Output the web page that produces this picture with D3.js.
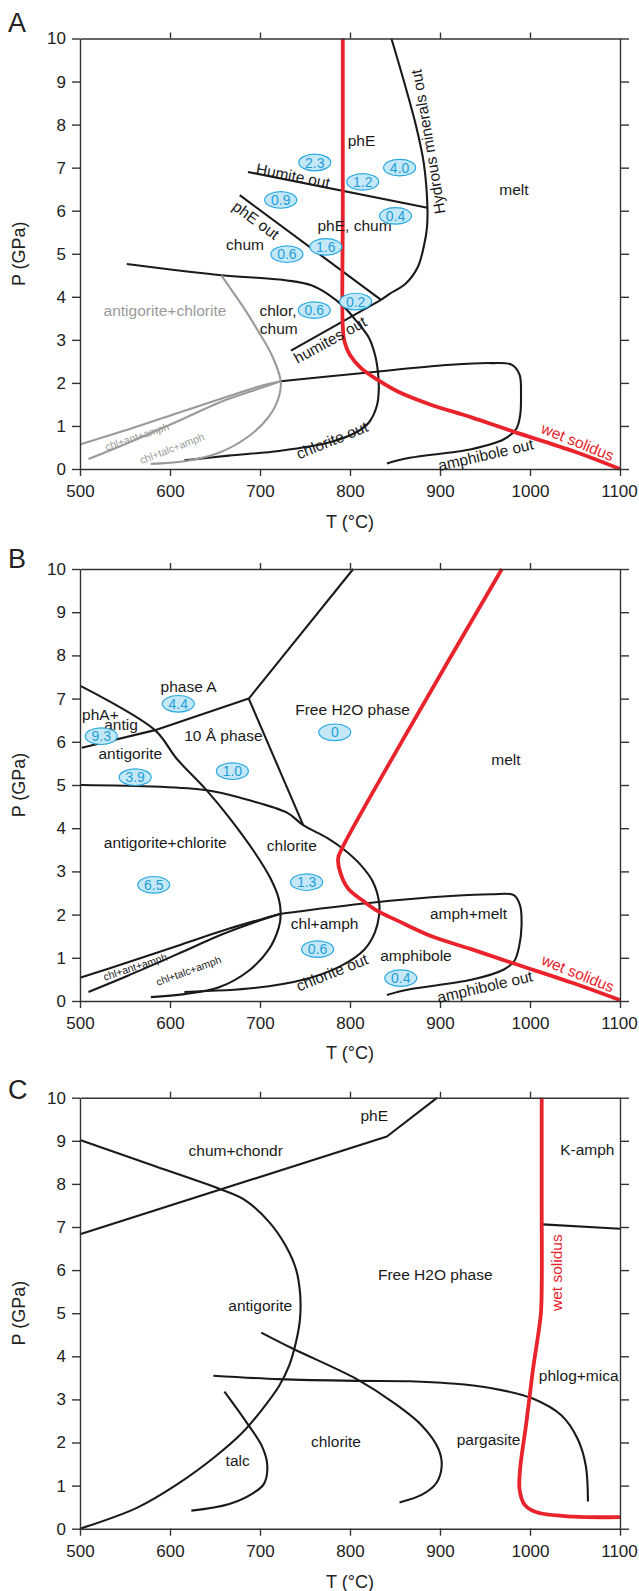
<!DOCTYPE html>
<html>
<head>
<meta charset="utf-8">
<script src="https://cdn.jsdelivr.net/npm/d3@7"></script>
<style>
  html, body { margin: 0; padding: 0; background: #fff; }
  svg { display: block; font-family: "Liberation Sans", Arial, Helvetica, sans-serif; }
</style>
</head>
<body>
<svg id="chart" width="639" height="1591"></svg>
<script>
// axis ticks
const tempTicks = [500, 600, 700, 800, 900, 1000, 1100];
const pressTicks = [0, 1, 2, 3, 4, 5, 6, 7, 8, 9, 10];

// ---- Panel A: [T (°C), P (GPa)] ----
const aWetSolidus = [[792, 10], [792, 6], [792, 3.3], [794, 2.95], [800, 2.65], [812, 2.35], [830, 2.08], [853, 1.8], [889, 1.5], [935, 1.2], [980, 0.88], [1050, 0.4], [1100, 0]];
const aHydrousOut = [[846, 10], [860, 9], [873, 8], [882, 7.1], [886, 6.1], [885.5, 5.6], [882, 5.17], [875.5, 4.7], [862, 4.31], [844, 4.07], [834.5, 3.93]];
const aHumiteOut = [[686.6, 6.9], [886, 6.07]];
const aPhEOut = [[677.5, 6.36], [834.5, 3.93]];
const aHumitesOut = [[734.4, 2.75], [834.5, 3.93]];
const aChloriteOut = [[552, 4.76], [657, 4.5], [705, 4.43], [730, 4.38], [757, 4.27], [775, 4.07], [793.6, 3.76], [807, 3.44], [821, 3.05], [827.7, 2.66], [831, 2.26], [832, 1.87], [830, 1.48], [821, 1.08], [807.5, 0.86], [777.5, 0.62], [721.2, 0.42], [665, 0.31], [616, 0.2]];
const aAmphLoop = [[723, 2.04], [815, 2.23], [912, 2.42], [957, 2.46], [980, 2.42], [988.4, 2.19], [990, 1.71], [989, 1.24], [984.7, 0.93], [971, 0.69], [934.7, 0.46], [866.4, 0.26], [841, 0.13]];
const aAntigCurve = [[657, 4.5], [684, 3.68], [696.9, 3.24], [713.7, 2.62], [723, 2.04], [721.2, 1.69], [710, 1.22], [687.5, 0.76], [653.7, 0.37], [616.2, 0.18], [578.7, 0.12]];
const aChlAntAmph = [[723, 2.04], [702.5, 1.94], [665, 1.69], [608.7, 1.3], [552.5, 0.91], [500, 0.57]];
const aChlTalcAmph = [[723, 2.04], [695, 1.84], [657.5, 1.57], [608.7, 1.11], [552.5, 0.6], [509.4, 0.23]];

const aText = [["phE", 812.8, 7.63], ["Humite out", 736.7, 6.81, 11.3], ["melt", 982.2, 6.5], ["Hydrous minerals out", 886.7, 7.6, -99.6], ["phE, chum", 805, 5.65], ["phE out", 695.6, 5.78, 36.5], ["chum", 683.3, 5.22], ["chlor,", 720, 3.69], ["chum", 720.8, 3.27], ["humites out", 777.8, 3.0, -29], ["chlorite out", 780, 0.67, -22], ["amphibole out", 950.8, 0.33, -13]];
const aGrayText = [["antigorite+chlorite", 594.4, 3.68]];
const aSmallText = [["chl+ant+amph", 563.3, 0.75, -18.5], ["chl+talc+amph", 602.2, 0.48, -21]];
const aRedText = [["wet solidus", 1053, 0.63, 22]];
const aBubbles = [["2.3", 760.9, 7.12], ["4.0", 855.1, 7.0], ["1.2", 814.1, 6.67], ["0.9", 723, 6.25], ["0.4", 850.6, 5.88], ["1.6", 773.1, 5.16], ["0.6", 729.9, 4.99], ["0.2", 806.3, 3.89], ["0.6", 760.3, 3.69]];

// ---- Panel B ----
const bTopLine = [[803.6, 10], [687.5, 7]];
const bPhaseALine = [[687.5, 7], [583.3, 6.27], [502, 5.86]];
const b10ALine = [[687.5, 7], [748, 4.07]];
const bAntigCurve = [[501, 7.29], [583.3, 6.27], [607, 5.62], [641, 4.87], [666, 4.24], [693.4, 3.46], [711.6, 2.84], [720.8, 2.37], [723, 2.02], [721, 1.71], [710, 1.2], [687.5, 0.7], [653.7, 0.31], [616, 0.16], [578.7, 0.09]];
const bChloriteOut = [[501, 5.0], [641, 4.88], [684, 4.67], [730, 4.36], [748, 4.07], [775, 3.77], [793.6, 3.5], [811.8, 3.15], [825.4, 2.76], [832.3, 2.29], [832.3, 1.98], [827.7, 1.59], [816.3, 1.2], [789, 0.8], [748, 0.49], [693.4, 0.3], [616, 0.21]];
const bAmphLoop = [[723, 2.02], [821, 2.27], [912, 2.43], [957, 2.47], [982, 2.45], [989, 2.21], [990.6, 1.74], [988, 1.27], [982.4, 0.92], [971, 0.73], [934.7, 0.49], [866.4, 0.27], [841, 0.14]];
const bChlAntAmph = [[723, 2.02], [702.5, 1.9], [665, 1.67], [608.7, 1.28], [552.5, 0.89], [500, 0.54]];
const bChlTalcAmph = [[723, 2.02], [695, 1.83], [657.5, 1.54], [608.7, 1.09], [552.5, 0.58], [509.4, 0.21]];
const bWetSolidus = [[968.8, 10], [859.6, 6.08], [791.3, 3.54], [786.8, 3.3], [789, 2.99], [798, 2.6], [816.3, 2.29], [830, 2.09], [852.8, 1.86], [889.2, 1.51], [934.7, 1.2], [980.2, 0.88], [1048.5, 0.41], [1100, 0.02]];

const bText = [["phase A", 620.6, 7.29], ["phA+", 522.7, 6.64], ["antig", 545.6, 6.4], ["10 Å phase", 659.3, 6.14], ["Free H2O phase", 802.8, 6.75], ["antigorite", 555.9, 5.73], ["melt", 973.3, 5.58], ["antigorite+chlorite", 594.7, 3.67], ["chlorite", 735.3, 3.59], ["amph+melt", 931.6, 2.02], ["chl+amph", 771.8, 1.8], ["amphibole", 873.3, 1.06], ["chlorite out", 780, 0.66, -22], ["amphibole out", 949.8, 0.33, -13]];
const bSmallText = [["chl+ant+amph", 561.3, 0.79, -18], ["chl+talc+amph", 620.6, 0.7, -20]];
const bRedText = [["wet solidus", 1053.3, 0.64, 22]];
const bBubbles = [["4.4", 609.2, 6.88], ["9.3", 523.6, 6.13], ["0", 783.1, 6.22], ["3.9", 561.3, 5.18], ["1.0", 669.3, 5.32], ["6.5", 581.9, 2.69], ["1.3", 751.8, 2.75], ["0.6", 764, 1.2], ["0.4", 856.4, 0.53]];

// ---- Panel C ----
const cPhELine = [[500, 6.83], [841, 9.1], [897, 10]];
const cAntigCurve = [[500, 9.02], [578, 8.45], [655.6, 7.88], [683.7, 7.62], [710, 7.12], [728.7, 6.56], [740, 6.02], [744.5, 5.47], [744.5, 4.88], [740, 4.33], [732.5, 3.79], [721.2, 3.31], [702.5, 2.77], [680, 2.22], [650, 1.67], [608.7, 1.04], [563.7, 0.49], [500, 0]];
const cTalcCurve = [[660.5, 3.18], [685.6, 2.45], [702.5, 1.9], [708.1, 1.47], [704.4, 1.04], [691.2, 0.81], [665, 0.57], [623.7, 0.42]];
const cChloriteCurve = [[701.4, 4.55], [736.2, 4.18], [807.5, 3.47], [848.7, 2.92], [880, 2.39], [898.3, 1.85], [901.9, 1.46], [896, 1.06], [880, 0.79], [855, 0.61]];
const cPargasiteCurve = [[648.1, 3.55], [721.2, 3.47], [807.5, 3.43], [866.4, 3.42], [912, 3.37], [957.5, 3.26], [1003, 3.02], [1034.8, 2.63], [1053, 2.08], [1062, 1.46], [1064.4, 0.63]];
const cKAmphLine = [[1014, 7.06], [1100, 6.96]];
const cWetSolidus = [[1013, 10], [1013, 7.5], [1013, 5.6], [1012, 4.98], [1003, 3.65], [996, 2.47], [989, 1.38], [988.4, 0.91], [993.9, 0.56], [1007.5, 0.38], [1048.5, 0.28], [1100, 0.27]];

const cText = [["phE", 826.9, 9.58], ["chum+chondr", 673, 8.77], ["K-amph", 1063.7, 8.8], ["Free H2O phase", 894.7, 5.89], ["antigorite", 700.2, 5.17], ["phlog+mica", 1054.1, 3.55], ["pargasite", 953.9, 2.06], ["chlorite", 784.4, 2.02], ["talc", 675.2, 1.58]];
const cRedText = [["wet solidus", 1029.6, 5.94, -90]];

// ---- layout ----
const panels = [
  { letter: "A", top: 38.5, bottom: 469, letterY: 31.5, titleY: 521.7, smallColor: "#9a9a9a",
    curves: [
      { pts: aChloriteOut, kind: "black" }, { pts: aAmphLoop, kind: "black" },
      { pts: aHydrousOut, kind: "black" }, { pts: aHumiteOut, kind: "black", straight: true },
      { pts: aPhEOut, kind: "black", straight: true }, { pts: aHumitesOut, kind: "black", straight: true },
      { pts: aAntigCurve, kind: "gray" }, { pts: aChlAntAmph, kind: "gray" }, { pts: aChlTalcAmph, kind: "gray" },
      { pts: aWetSolidus, kind: "red" }],
    text: aText, grayText: aGrayText, smallText: aSmallText, redText: aRedText, bubbles: aBubbles },
  { letter: "B", top: 569, bottom: 1001, letterY: 568.3, titleY: 1052.7, smallColor: "#1a1a1a",
    curves: [
      { pts: bTopLine, kind: "black", straight: true }, { pts: bPhaseALine, kind: "black", straight: true },
      { pts: b10ALine, kind: "black", straight: true }, { pts: bAntigCurve, kind: "black" },
      { pts: bChloriteOut, kind: "black" }, { pts: bAmphLoop, kind: "black" },
      { pts: bChlAntAmph, kind: "black" }, { pts: bChlTalcAmph, kind: "black" },
      { pts: bWetSolidus, kind: "red" }],
    text: bText, grayText: [], smallText: bSmallText, redText: bRedText, bubbles: bBubbles },
  { letter: "C", top: 1097.7, bottom: 1528.7, letterY: 1099, titleY: 1581.7, smallColor: "#1a1a1a",
    curves: [
      { pts: cPhELine, kind: "black", straight: true }, { pts: cAntigCurve, kind: "black" },
      { pts: cTalcCurve, kind: "black" }, { pts: cChloriteCurve, kind: "black" },
      { pts: cPargasiteCurve, kind: "black" }, { pts: cKAmphLine, kind: "black", straight: true },
      { pts: cWetSolidus, kind: "red" }],
    text: cText, grayText: [], smallText: [], redText: cRedText, bubbles: [] }
];

const strokes = {
  black: { color: "#1a1a1a", width: 2.1 },
  gray: { color: "#9a9a9a", width: 2.1 },
  red: { color: "#e8232b", width: 3.8 }
};

const svg = d3.select("#chart");
const x = d3.scaleLinear().domain([500, 1100]).range([80, 620]);

const addText = function (g, y, rows, color, size) {
  rows.forEach(([label, t, p, angle]) => {
    g.append("text")
      .attr("transform", `translate(${x(t)},${y(p)}) rotate(${angle || 0})`)
      .attr("dy", "0.35em")
      .attr("text-anchor", "middle")
      .attr("font-size", size)
      .attr("fill", color)
      .text(label);
  });
};

panels.forEach((p) => {
  const y = d3.scaleLinear().domain([0, 10]).range([p.bottom, p.top]);
  const g = svg.append("g");

  // phase boundaries
  p.curves.forEach((c) => {
    const line = d3.line()
      .x((d) => x(d[0]))
      .y((d) => y(d[1]))
      .curve(c.straight ? d3.curveLinear : d3.curveCatmullRom.alpha(0.5));
    g.append("path")
      .attr("d", line(c.pts))
      .attr("fill", "none")
      .attr("stroke", strokes[c.kind].color)
      .attr("stroke-width", strokes[c.kind].width)
      .attr("stroke-linejoin", "round");
  });

  // axes, box style
  const axes = [
    g.append("g").attr("transform", `translate(0,${p.bottom})`)
      .call(d3.axisBottom(x).tickValues(tempTicks).tickFormat(d3.format("d"))
        .tickSize(7).tickSizeOuter(0).tickPadding(9)),
    g.append("g").attr("transform", "translate(80,0)")
      .call(d3.axisLeft(y).tickValues(pressTicks).tickSize(8).tickSizeOuter(0).tickPadding(6)),
    g.append("g").attr("transform", `translate(0,${p.top})`)
      .call(d3.axisTop(x).tickValues([600, 700, 800, 900, 1000]).tickSize(6).tickSizeOuter(0).tickFormat("")),
    g.append("g").attr("transform", "translate(620,0)")
      .call(d3.axisRight(y).tickValues(pressTicks).tickSize(9).tickSizeOuter(0).tickFormat(""))
  ];
  axes.forEach((a) => {
    a.attr("font-family", null).attr("font-size", null);
    a.selectAll("path, line").attr("stroke", "#333").attr("stroke-width", 1.4);
    a.selectAll("text").attr("font-size", 17).attr("fill", "#222");
  });
  // keep the last temperature label inside the page
  axes[0].selectAll(".tick text").filter((d) => d === 1100).attr("dx", -1);

  // titles
  g.append("text").attr("x", 8).attr("y", p.letterY).attr("font-size", 27).attr("fill", "#222").text(p.letter);
  g.append("text").attr("x", 350).attr("y", p.titleY).attr("dy", "0.35em")
    .attr("text-anchor", "middle").attr("font-size", 18).attr("fill", "#222").text("T (°C)");
  g.append("text")
    .attr("transform", `translate(19,${(p.top + p.bottom) / 2}) rotate(-90)`)
    .attr("dy", "0.35em").attr("text-anchor", "middle").attr("font-size", 18).attr("fill", "#222")
    .text("P (GPa)");

  // field labels
  addText(g, y, p.text, "#1a1a1a", 15.5);
  addText(g, y, p.grayText, "#9a9a9a", 15.5);
  addText(g, y, p.smallText, p.smallColor, 10.5);
  addText(g, y, p.redText, "#e8232b", 15.5);

  // water content bubbles
  const bub = g.selectAll(".bubble").data(p.bubbles).join("g")
    .attr("transform", (d) => `translate(${x(d[1])},${y(d[2])})`);
  bub.append("ellipse").attr("rx", 16).attr("ry", 8.3)
    .attr("fill", "#c4e8f7").attr("stroke", "#29a9e1").attr("stroke-width", 1.2);
  bub.append("text").attr("dy", "0.36em").attr("text-anchor", "middle")
    .attr("font-size", 14).attr("fill", "#1f9fd9").text((d) => d[0]);
});
</script>
</body>
</html>
